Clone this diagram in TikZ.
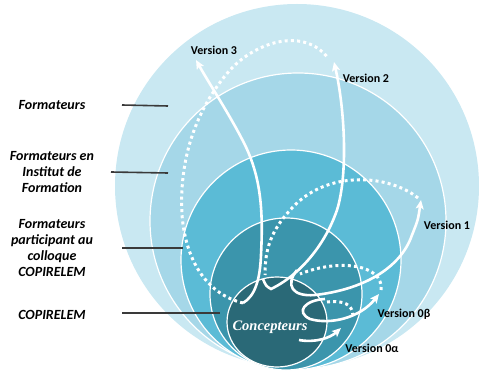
\documentclass[tikz,border=0pt]{standalone}
\usepackage{fontspec}
\setmainfont{Carlito}
\newfontfamily\concfont{Liberation Serif}
\usetikzlibrary{arrows.meta}
\definecolor{ringA}{HTML}{C9E8F2}
\definecolor{ringB}{HTML}{A5D7E8}
\definecolor{ringC}{HTML}{5BBBD6}
\definecolor{ringD}{HTML}{3B95AC}
\definecolor{ringE}{HTML}{2A6977}
\definecolor{leadgray}{HTML}{3A3A3A}
\begin{document}
\begin{tikzpicture}[x=1pt,y=-1pt]
\tikzstyle{every node}+=[inner sep=0pt]
\tikzstyle{ring}=[draw=white,line width=1.2pt]
\tikzstyle{version}=[white,line width=2.6pt,-{Stealth[length=9pt,width=8pt,inset=2pt]}]
\tikzstyle{loopback}=[white,line width=3pt,dash pattern=on 3pt off 3.2pt]
\tikzstyle{lead}=[leadgray,line width=1.6pt]
\tikzstyle{who}=[font=\fontsize{14}{16}\selectfont\bfseries\itshape,align=center]
\tikzstyle{vlabel}=[font=\fontsize{12}{14}\selectfont\bfseries]
\useasboundingbox (0,0) rectangle (479,371);
\begin{scope}
\clip (0,0) rectangle (479,371);
\fill [ringA] (297,186) circle (182);
\filldraw [ring,fill=ringB] (298,221) circle (148);
\filldraw [ring,fill=ringC] (291,260) circle (110);
\filldraw [ring,fill=ringD] (286,294) circle (76);
\filldraw [ring,fill=ringE] (277,322) ellipse (50 and 45);
\end{scope}
\node [who] (formateurs) at (52,105) {Formateurs};
\node [who] (institut) at (52,172) {Formateurs en\\Institut de\\Formation};
\node [who] (colloque) at (52,248) {Formateurs\\participant au\\colloque\\COPIRELEM};
\node [who] (copirelem) at (52,315) {COPIRELEM};
\coordinate (fa) at (122,105);
\coordinate (fb) at (168,106);
\coordinate (ia) at (111,172);
\coordinate (ib) at (168,173);
\coordinate (ca) at (122,248);
\coordinate (cb) at (183,248);
\coordinate (pa) at (122,313);
\coordinate (pb) at (220,313);
\draw [lead] (fa) -- (fb);
\draw [lead] (ia) -- (ib);
\draw [lead] (ca) -- (cb);
\draw [lead] (pa) -- (pb);
\node [font=\concfont\fontsize{14.5}{16}\selectfont\bfseries\itshape,text=white] (concepteurs) at (270,327) {Concepteurs};
\coordinate (v3s) at (243,303);
\coordinate (v3e) at (196,60);
\coordinate (v2s) at (263,279);
\coordinate (v2e) at (334,62);
\coordinate (v1s) at (297,270);
\coordinate (v1e) at (421,200);
\coordinate (vbs) at (325,299);
\coordinate (vbe) at (379,294);
\coordinate (vas) at (299,340);
\coordinate (vae) at (341,328);
\draw [loopback] (v3s) .. controls (210,295) and (186,265) .. (182,215) .. controls (179,160) and (195,110) .. (230,70) .. controls (258,40) and (305,28) .. (328,58);
\draw [loopback] (418,198) .. controls (390,175) and (330,170) .. (295,205) .. controls (270,230) and (265,250) .. (265,275);
\draw [loopback] (381,290) .. controls (384,265) and (340,258) .. (300,274);
\draw [loopback] (327,302) .. controls (345,300) and (352,305) .. (353,315);
\draw [version] (v3s) .. controls (255,296) and (260,280) .. (261,255) .. controls (263,215) and (262,180) .. (245,145) .. controls (230,115) and (210,85) .. (v3e);
\draw [version] (v2s) .. controls (266,286) .. (271,289) .. controls (300,275) and (325,245) .. (337,210) .. controls (348,175) and (345,110) .. (v2e);
\draw [version] (v1s) .. controls (285,285) and (292,297) .. (315,295) .. controls (360,290) and (400,270) .. (412,235) .. controls (418,220) .. (v1e);
\draw [version] (vbs) .. controls (305,300) and (295,312) .. (310,319) .. controls (330,325) and (360,318) .. (vbe);
\draw [version] (vas) .. controls (315,343) and (330,338) .. (vae);
\node [vlabel] (ver3) at (214,50) {Version 3};
\node [vlabel] (ver2) at (366,78) {Version 2};
\node [vlabel] (ver1) at (447,225) {Version 1};
\node [vlabel] (ver0b) at (404,314) {Version 0β};
\node [vlabel] (ver0a) at (372,348) {Version 0α};
\end{tikzpicture}
\end{document}
